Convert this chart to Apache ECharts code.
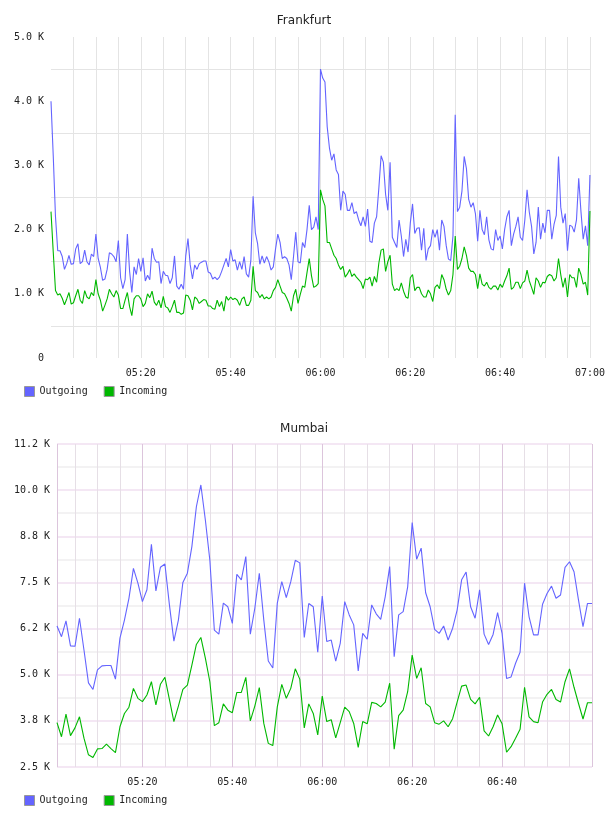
<!DOCTYPE html>
<html>
<head>
<meta charset="utf-8">
<script src="https://cdn.jsdelivr.net/npm/echarts@6/dist/echarts.min.js"></script>
<style>
  html, body { margin: 0; padding: 0; background: #fff; }
  #chart { width: 608px; height: 816px; }
</style>
</head>
<body>
<div id="chart"></div>
<script>
// Frankfurt: one sample every 30 s, 05:00 .. 07:00
var fraOutgoing = [
  4000, 3150, 2200, 1670, 1670, 1580, 1380, 1470, 1600, 1460, 1470, 1700, 1780, 1470, 1500, 1680, 1500, 1450, 1620, 1580,
  1930, 1550, 1410, 1210, 1230, 1380, 1640, 1620, 1580, 1500, 1830, 1250, 1080, 1220, 1930, 1350, 1020, 1420, 1300, 1550,
  1350, 1560, 1200, 1290, 1220, 1710, 1550, 1490, 1500, 1160, 1350, 1290, 1280, 1160, 1250, 1590, 1120, 1070, 1150, 1070,
  1590, 1860, 1450, 1230, 1450, 1380, 1470, 1490, 1510, 1510, 1340, 1320, 1230, 1260, 1220, 1260, 1350, 1450, 1550, 1420,
  1690, 1510, 1530, 1370, 1500, 1380, 1580, 1310, 1260, 1520, 2520, 1950, 1780, 1460, 1590, 1480, 1580, 1500, 1370, 1420,
  1700, 1930, 1800, 1550, 1580, 1550, 1450, 1220, 1580, 1960, 1500, 1480, 1800, 1720, 2000, 2380, 2000, 2040, 2200, 2000,
  4500, 4360, 4300, 3600, 3270, 3080, 3180, 2930, 2860, 2300, 2600, 2550, 2300, 2300, 2420, 2250, 2280, 2150, 2060, 2200,
  2050, 2320, 1820, 1800, 2100, 2200, 2650, 3150, 3050, 2550, 2300, 3050, 1880, 1800, 1720, 2150, 1900, 1580, 1850, 1650,
  2100, 2400, 1940, 2020, 2030, 1680, 2020, 1520, 1700, 1750, 2000, 1880, 2000, 1680, 2150, 2050, 1750, 1540, 1520, 1900,
  3790, 2280, 2350, 2600, 3140, 2950, 2470, 2350, 2420, 2250, 1820, 2300, 2000, 1920, 2200, 1840, 1700, 1680, 2000, 1830,
  1900, 1700, 2000, 2200, 2300, 1750, 1930, 2050, 2200, 1880, 1830, 2150, 2620, 2270, 2050, 1620, 1800, 2350, 1850, 2100,
  1950, 2300, 2300, 1850, 2080, 2220, 3140, 2350, 2100, 2250, 1670, 2070, 2050, 1960, 2150, 2800, 2280, 1850, 2060, 1750,
  2850
];
var fraIncoming = [
  2280, 1650, 1050, 980, 1000, 930, 830, 920, 1020, 840, 860, 970, 1070, 900, 850, 1050, 950, 920, 1020, 970,
  1220, 1000, 900, 730, 820, 920, 1070, 1000, 950, 1050, 980, 770, 770, 900, 1020, 800, 660, 920, 970, 970,
  920, 800, 850, 1000, 940, 1040, 870, 820, 900, 780, 960, 800, 780, 710, 800, 900, 710, 710, 680, 700,
  980, 970, 900, 750, 950, 920, 850, 880, 910, 900, 810, 810, 770, 760, 900, 800, 880, 730, 960, 900,
  950, 910, 930, 900, 820, 920, 950, 820, 820, 900, 1430, 1050, 1020, 940, 990, 920, 950, 920, 950, 1050,
  1100, 1220, 1120, 1020, 1000, 930, 850, 730, 970, 1070, 850, 990, 1120, 1100, 1330, 1550, 1280, 1100, 1120, 1160,
  2620, 2470, 2370, 1800, 1800, 1700, 1600, 1550, 1450, 1380, 1430, 1260, 1310, 1380, 1270, 1310, 1260, 1220, 1180, 1080,
  1230, 1220, 1260, 1120, 1270, 1180, 1480, 1680, 1700, 1350, 1500, 1600, 1150, 1050, 1080, 1050, 1170, 1040, 950, 930,
  1250, 1300, 1050, 1100, 1100, 1000, 950, 950, 1060, 1000, 880, 1100, 1140, 1080, 1300, 1220, 1070, 980, 1050, 1300,
  1900, 1380, 1430, 1550, 1730, 1600, 1400, 1350, 1350, 1300, 1080, 1310, 1150, 1120, 1180, 1100, 1070, 1120, 1120, 1060,
  1150, 1100, 1200, 1280, 1400, 1070, 1100, 1180, 1180, 1080, 1170, 1200, 1370, 1200, 1100, 990, 1250, 1200, 1100, 1180,
  1170, 1270, 1300, 1280, 1200, 1250, 1550, 1300, 1100, 1250, 950, 1300, 1250, 1250, 1100, 1400, 1300, 1150, 1180, 980,
  2290
];

// Mumbai: one sample every minute, 05:01 .. 07:00
var mumOutgoing = [
  6320, 6030, 6460, 5780, 5770, 6530, 5670, 4780, 4600, 5130, 5240, 5250, 5250, 4880, 5990, 6480, 7070, 7880, 7480, 6980,
  7300, 8530, 7270, 7910, 8000, 6900, 5910, 6480, 7500, 7750, 8470, 9550, 10140, 9190, 8100, 6210, 6100, 6940, 6840, 6390,
  7720, 7570, 8200, 6100, 6800, 7750, 6480, 5370, 5180, 6940, 7520, 7090, 7520, 8100, 8030, 6010, 6930, 6840, 5610, 7130,
  5900, 5940, 5370, 5850, 6980, 6620, 6350, 5100, 6120, 5960, 6890, 6650, 6500, 7110, 7930, 5490, 6620, 6710, 7380, 9120,
  8130, 8430, 7220, 6840, 6230, 6120, 6320, 5940, 6260, 6750, 7570, 7780, 6840, 6530, 7300, 6100, 5820, 6090, 6680, 6120,
  4900, 4940, 5310, 5610, 7480, 6570, 6080, 6080, 6910, 7200, 7400, 7070, 7160, 7910, 8060, 7790, 7020, 6300, 6930, 6930
];
var mumIncoming = [
  3700, 3320, 3930, 3350, 3560, 3860, 3280, 2830, 2760, 2990, 3000, 3120, 3000, 2890, 3590, 3950, 4120, 4630, 4360, 4270,
  4450, 4810, 4180, 4740, 4930, 4330, 3730, 4150, 4600, 4720, 5260, 5820, 6010, 5450, 4810, 3620, 3700, 4210, 4040, 3970,
  4520, 4520, 4930, 3750, 4150, 4650, 3680, 3140, 3080, 4130, 4740, 4360, 4630, 5160, 4880, 3560, 4210, 3950, 3370, 4420,
  3730, 3780, 3290, 3700, 4120, 4000, 3680, 3030, 3730, 3670, 4250, 4220, 4130, 4260, 4770, 2980, 3890, 4040, 4540, 5530,
  4900, 5190, 4220, 4130, 3700, 3660, 3750, 3590, 3810, 4260, 4690, 4720, 4330, 4210, 4390, 3480, 3340, 3590, 3910, 3670,
  2900, 3050, 3280, 3520, 4660, 3860, 3730, 3700, 4260, 4470, 4600, 4330, 4260, 4810, 5160, 4660, 4220, 3800, 4240, 4240
];

var fraTickLabels = ['05:20', '05:40', '06:00', '06:20', '06:40', '07:00'];
var mumTickLabels = ['05:20', '05:40', '06:00', '06:20', '06:40'];
var fraYTicks = [0, 1000, 2000, 3000, 4000, 5000];
var fraYLabels = ['0', '1.0 K', '2.0 K', '3.0 K', '4.0 K', '5.0 K'];
var mumYTicks = [2500, 3750, 5000, 6250, 7500, 8750, 10000, 11250];
var mumYLabels = ['2.5 K', '3.8 K', '5.0 K', '6.2 K', '7.5 K', '8.8 K', '10.0 K', '11.2 K'];

function pad(n) { return (n < 10 ? '0' : '') + n; }
function timeLabel(sec) {
  var m = Math.floor(sec / 60), s = sec % 60;
  var t = pad(Math.floor(m / 60)) + ':' + pad(m % 60);
  return s ? t + ':' + pad(s) : t;
}
var fraTimes = fraOutgoing.map(function (v, i) { return timeLabel(5 * 3600 + i * 30); });
var mumTimes = mumOutgoing.map(function (v, i) { return timeLabel(5 * 3600 + 60 + i * 60); });

function minuteOf(t) { return t.length === 5 ? +t.slice(3, 5) : -1; }

var mono = 'DejaVu Sans Mono';
var blue = '#6464ff';
var green = '#00b800';

var chartDom = document.getElementById('chart');
var myChart = echarts.init(chartDom);
var option;

var labelStyle = { fontFamily: mono, fontSize: 10, color: '#222' };

option = {
  animation: false,
  title: [
    { text: 'Frankfurt', left: 'center', top: 15, padding: 0,
      textStyle: { fontFamily: 'DejaVu Sans', fontSize: 12, fontWeight: 'normal', color: '#222' } },
    { text: 'Mumbai', left: 'center', top: 423, padding: 0,
      textStyle: { fontFamily: 'DejaVu Sans', fontSize: 12, fontWeight: 'normal', color: '#222' } }
  ],
  legend: [
    { left: 24, top: 386, padding: 0, icon: 'rect', itemWidth: 10, itemHeight: 10, itemGap: 16,
      itemStyle: { borderColor: '#999', borderWidth: 1 },
      textStyle: { fontFamily: mono, fontSize: 10, color: '#222' },
      data: ['Outgoing', 'Incoming'] },
    { left: 24, top: 795, padding: 0, icon: 'rect', itemWidth: 10, itemHeight: 10, itemGap: 16,
      itemStyle: { borderColor: '#999', borderWidth: 1 },
      textStyle: { fontFamily: mono, fontSize: 10, color: '#222' },
      data: ['Outgoing', 'Incoming'] }
  ],
  grid: [
    { left: 51, right: 17, top: 37, height: 321 },
    { left: 57, right: 16, top: 444, height: 323 }
  ],
  xAxis: [
    {
      type: 'category', gridIndex: 0, data: fraTimes, boundaryGap: false,
      axisLine: { show: false }, axisTick: { show: false },
      axisLabel: Object.assign({ margin: 10,
        interval: function (i, v) { return fraTickLabels.indexOf(v) >= 0; } }, labelStyle),
      splitLine: { show: true,
        interval: function (i, v) { var m = minuteOf(v); return i > 0 && m >= 0 && m % 5 === 0; },
        lineStyle: { color: '#e4e4e4', width: 1 } }
    },
    {
      type: 'category', gridIndex: 1, data: mumTimes, boundaryGap: false,
      axisLine: { show: false }, axisTick: { show: false },
      axisLabel: Object.assign({ margin: 10,
        interval: function (i, v) { return mumTickLabels.indexOf(v) >= 0; } }, labelStyle),
      splitLine: { show: true,
        interval: function (i, v) { var m = minuteOf(v); return m % 5 === 0 && m % 20 !== 0; },
        lineStyle: { color: '#e6dfe6', width: 1 } }
    },
    {
      type: 'category', gridIndex: 1, data: mumTimes, boundaryGap: false,
      axisLine: { show: false }, axisTick: { show: false }, axisLabel: { show: false },
      splitLine: { show: true,
        interval: function (i, v) { return i === 0 || i === mumTimes.length - 1 || minuteOf(v) % 20 === 0; },
        lineStyle: { color: '#dcc5dc', width: 1 } }
    }
  ],
  yAxis: [
    {
      type: 'value', gridIndex: 0, min: 0, max: 5000, interval: 1000,
      axisLine: { show: false }, axisTick: { show: false },
      axisLabel: Object.assign({ margin: 7,
        formatter: function (v) { return fraYLabels[fraYTicks.indexOf(v)]; } }, labelStyle),
      splitLine: { show: false },
      minorTick: { show: false, splitNumber: 2 },
      minorSplitLine: { show: true, lineStyle: { color: '#e4e4e4', width: 1 } }
    },
    {
      type: 'value', gridIndex: 1, min: 2500, max: 11250, interval: 1250,
      axisLine: { show: false }, axisTick: { show: false },
      axisLabel: Object.assign({ margin: 7,
        formatter: function (v) { return mumYLabels[mumYTicks.indexOf(v)]; } }, labelStyle),
      splitLine: { show: true, lineStyle: { color: '#f0dff0', width: 1.5 } },
      minorTick: { show: false, splitNumber: 2 },
      minorSplitLine: { show: true, lineStyle: { color: '#f0eef0', width: 1.5 } }
    }
  ],
  series: [
    { name: 'Outgoing', type: 'line', xAxisIndex: 0, yAxisIndex: 0, data: fraOutgoing,
      symbol: 'none', itemStyle: { color: blue }, lineStyle: { color: blue, width: 1.1 } },
    { name: 'Incoming', type: 'line', xAxisIndex: 0, yAxisIndex: 0, data: fraIncoming,
      symbol: 'none', itemStyle: { color: green }, lineStyle: { color: green, width: 1.1 } },
    { name: 'Outgoing', type: 'line', xAxisIndex: 1, yAxisIndex: 1, data: mumOutgoing,
      symbol: 'none', itemStyle: { color: blue }, lineStyle: { color: blue, width: 1.1 } },
    { name: 'Incoming', type: 'line', xAxisIndex: 1, yAxisIndex: 1, data: mumIncoming,
      symbol: 'none', itemStyle: { color: green }, lineStyle: { color: green, width: 1.1 } }
  ]
};

option && myChart.setOption(option);
</script>
</body>
</html>
